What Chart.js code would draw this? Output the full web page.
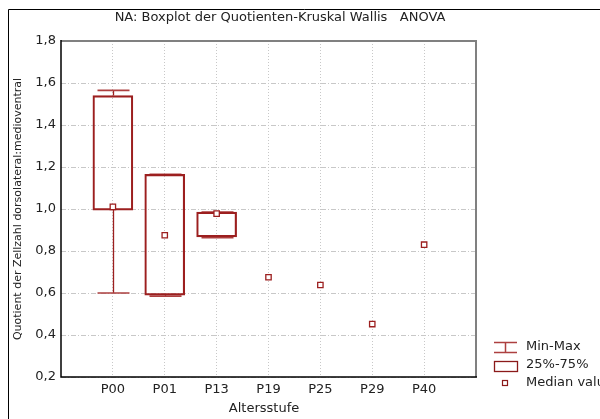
<!DOCTYPE html>
<html><head><meta charset="utf-8">
<script src="https://cdn.jsdelivr.net/npm/chart.js@4"></script>
<style>html,body{margin:0;padding:0;background:#fff}#wrap{position:relative;width:600px;height:419px}</style>
</head><body><div id="wrap"><canvas id="c" width="600" height="419"></canvas></div>
<script>
const categories = ['P00','P01','P13','P19','P25','P29','P40'];
const minValues    = [0.600, 0.585, 0.863, null, null, null, null];
const q1Values     = [0.995, 0.590, 0.867, null, null, null, null];
const medianValues = [1.010, 0.875, 0.978, 0.675, 0.638, 0.452, 0.830];
const q3Values     = [1.540, 1.165, 0.985, null, null, null, null];
const maxValues    = [1.565, 1.165, 0.985, null, null, null, null];
const yTicks = [0.2, 0.4, 0.6, 0.8, 1.0, 1.2, 1.4, 1.6, 1.8];
const legendLabels = ['Min-Max', '25%-75%', 'Median value'];
const chartTitle = 'NA: Boxplot der Quotienten-Kruskal Wallis   ANOVA';
const xTitle = 'Altersstufe';
const yTitle = 'Quotient der Zellzahl dorsolateral:medioventral';

const FONT = '"DejaVu Sans", Arial, sans-serif';
const RED = '#9c1f1f';
const RED_LIGHT = '#ad4040';
const TXT = '#222';

const boxData = [];
categories.forEach((c, i) => {
  if (q1Values[i] != null) boxData.push({x: i + 1, y: [q1Values[i], q3Values[i]]});
});
const medianData = categories.map((c, i) => ({x: i + 1, y: medianValues[i]}));

const decor = {
  id: 'decor',
  beforeDraw(chart) {
    const ctx = chart.ctx;
    ctx.save();
    ctx.fillStyle = '#fff';
    ctx.fillRect(0, 0, chart.width, chart.height);
    ctx.strokeStyle = '#000';
    ctx.lineWidth = 1;
    ctx.beginPath();
    ctx.moveTo(8.5, chart.height);
    ctx.lineTo(8.5, 9.5);
    ctx.lineTo(chart.width, 9.5);
    ctx.stroke();
    ctx.restore();
  },
  beforeDatasetsDraw(chart) {
    const ctx = chart.ctx, xs = chart.scales.x, ys = chart.scales.y;
    ctx.save();
    categories.forEach((c, i) => {
      if (minValues[i] == null) return;
      const x = Math.round(xs.getPixelForValue(i + 1)) + 0.5;
      const capW = 16;
      const yMin = ys.getPixelForValue(minValues[i]);
      const yQ1 = ys.getPixelForValue(q1Values[i]);
      const yQ3 = ys.getPixelForValue(q3Values[i]);
      const yMax = ys.getPixelForValue(maxValues[i]);
      ctx.strokeStyle = RED;
      ctx.lineWidth = 1.3;
      ctx.beginPath();
      ctx.moveTo(x, yMin); ctx.lineTo(x, yQ1);
      ctx.moveTo(x, yQ3); ctx.lineTo(x, yMax);
      ctx.stroke();
      ctx.strokeStyle = RED_LIGHT;
      ctx.lineWidth = 1.6;
      ctx.beginPath();
      ctx.moveTo(x - capW, yMin); ctx.lineTo(x + capW, yMin);
      ctx.moveTo(x - capW, yMax); ctx.lineTo(x + capW, yMax);
      ctx.stroke();
    });
    ctx.restore();
  },
  afterDraw(chart) {
    const ctx = chart.ctx, a = chart.chartArea;
    ctx.save();
    // plot frame
    ctx.strokeStyle = '#808080';
    ctx.lineWidth = 2;
    ctx.beginPath();
    ctx.moveTo(a.left, a.top); ctx.lineTo(a.right, a.top); ctx.lineTo(a.right, a.bottom);
    ctx.stroke();
    ctx.strokeStyle = '#000';
    ctx.lineWidth = 1.5;
    ctx.beginPath();
    ctx.moveTo(a.left, a.top - 1); ctx.lineTo(a.left, a.bottom); ctx.lineTo(a.right + 1, a.bottom);
    ctx.stroke();
    // titles
    ctx.fillStyle = TXT;
    ctx.textAlign = 'center';
    ctx.textBaseline = 'middle';
    ctx.font = '13px ' + FONT;
    ctx.fillText(chartTitle, 280, 18);
    ctx.fillText(xTitle, 264, 409);
    ctx.save();
    ctx.translate(18, 209);
    ctx.rotate(-Math.PI / 2);
    ctx.font = '11px ' + FONT;
    ctx.fillText(yTitle, 0, 0);
    ctx.restore();
    // legend
    const lx = 494, lw = 23;
    ctx.strokeStyle = RED_LIGHT;
    ctx.lineWidth = 1.5;
    ctx.beginPath();
    ctx.moveTo(lx, 342.5); ctx.lineTo(lx + lw, 342.5);
    ctx.moveTo(lx, 352.5); ctx.lineTo(lx + lw, 352.5);
    ctx.moveTo(lx + lw / 2, 342.5); ctx.lineTo(lx + lw / 2, 352.5);
    ctx.stroke();
    ctx.strokeStyle = '#8b1a1a';
    ctx.lineWidth = 1.3;
    ctx.strokeRect(lx + 0.5, 361.5, lw, 10);
    ctx.lineWidth = 1.2;
    ctx.fillStyle = '#fff';
    ctx.fillRect(lx + 8.5, 380.5, 5, 5);
    ctx.strokeRect(lx + 8.5, 380.5, 5, 5);
    ctx.fillStyle = TXT;
    ctx.textAlign = 'left';
    ctx.font = '13px ' + FONT;
    ctx.fillText(legendLabels[0], 526, 347);
    ctx.fillText(legendLabels[1], 526, 365);
    ctx.fillText(legendLabels[2], 526, 383);
    ctx.restore();
  }
};

new Chart(document.getElementById('c'), {
  data: {
    datasets: [
      {
        type: 'scatter',
        label: 'Median value',
        data: medianData,
        pointStyle: 'rect',
        pointRadius: 3.8,
        pointBorderWidth: 1.3,
        pointBorderColor: RED,
        pointBackgroundColor: '#fff',
        order: 0
      },
      {
        type: 'bar',
        label: '25%-75%',
        data: boxData,
        barThickness: 40,
        backgroundColor: 'rgba(255,255,255,0)',
        borderColor: RED,
        borderWidth: 1.5,
        borderSkipped: false,
        order: 1
      }
    ]
  },
  options: {
    responsive: false,
    animation: false,
    devicePixelRatio: 1,
    layout: {padding: {top: 41, right: 124, left: 0, bottom: 0}},
    plugins: {legend: {display: false}, title: {display: false}, tooltip: {enabled: false}},
    scales: {
      x: {
        type: 'linear', min: 0, max: 8, offset: false,
        afterBuildTicks: s => { s.ticks = categories.map((c, i) => ({value: i + 1})); },
        afterFit: s => { s.height = 42; },
        ticks: {
          autoSkip: false, maxRotation: 0, padding: 5, color: TXT,
          font: {family: FONT, size: 13},
          callback: v => categories[Math.round(v) - 1] || ''
        },
        grid: {color: '#c8c8c8', lineWidth: 1, drawTicks: false, offset: false},
        border: {display: false, dash: [1, 2]}
      },
      y: {
        type: 'linear', min: 0.2, max: 1.8,
        afterBuildTicks: s => { s.ticks = yTicks.map(v => ({value: v})); },
        afterFit: s => { s.width = 61; },
        ticks: {
          padding: 5, color: TXT,
          font: {family: FONT, size: 13},
          callback: v => v.toFixed(1).replace('.', ',')
        },
        grid: {color: '#c8c8c8', lineWidth: 1, drawTicks: false},
        border: {display: false, dash: [5, 2, 1, 2]}
      }
    }
  },
  plugins: [decor]
});
</script>
</body></html>
